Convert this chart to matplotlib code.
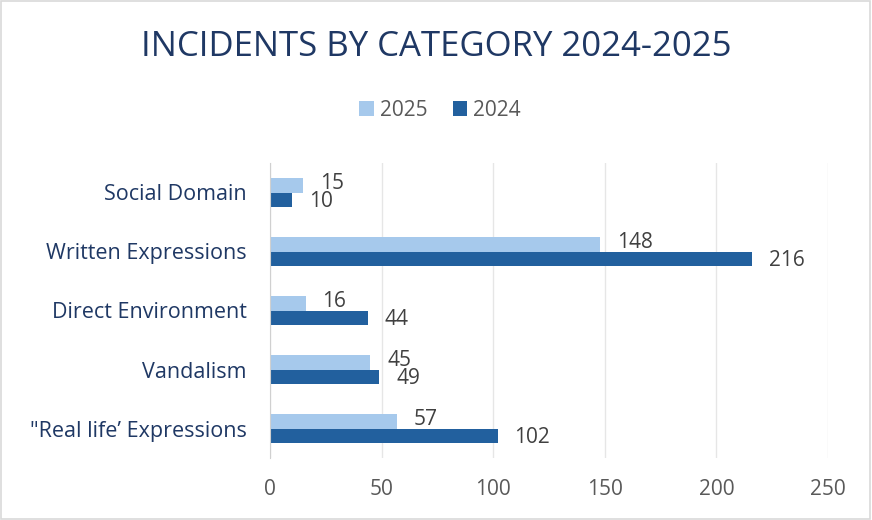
import matplotlib.pyplot as plt
import numpy as np

# data
categories = ['Social Domain', 'Written Expressions', 'Direct Environment',
              'Vandalism', '"Real life\u2019 Expressions']
values_2025 = [15, 148, 16, 45, 57]
values_2024 = [10, 216, 44, 49, 102]
x_ticks = [0, 50, 100, 150, 200, 250]

light = '#A6C9EC'
dark = '#22609E'
navy = '#1F3864'
grey = '#595959'

plt.rcParams['font.family'] = ['Open Sans', 'DejaVu Sans']

fig = plt.figure(figsize=(8.72, 5.2), dpi=100)
ax = fig.add_axes([270 / 872, 1 - 458 / 520, 558 / 872, 295 / 520])

y = np.arange(len(categories))
h = 0.25
b25 = ax.barh(y - h / 2, values_2025, height=h, color=light, label='2025')
b24 = ax.barh(y + h / 2, values_2024, height=h, color=dark, label='2024')

# value labels, nudged a little apart like the original
for bars, dy in ((b25, 1.5), (b24, -1.5)):
    for rect in bars:
        w = rect.get_width()
        ax.annotate(str(int(w)), (w, rect.get_y() + rect.get_height() / 2),
                    xytext=(12, dy), textcoords='offset points',
                    ha='left', va='center', fontsize=15, color='#404040')

ax.set_ylim(len(categories) - 0.5, -0.5)
ax.set_xlim(0, 250)
ax.set_xticks(x_ticks)
ax.set_yticks(y)
ax.set_yticklabels(categories, fontsize=15.5, color=navy)
ax.tick_params(axis='x', labelsize=15, labelcolor=grey, length=0, pad=15)
ax.tick_params(axis='y', length=0, pad=17)
ax.grid(axis='x', color='#E6E6E6', linewidth=1)
ax.set_axisbelow(True)
for s in ['top', 'right', 'bottom']:
    ax.spines[s].set_visible(False)
ax.spines['left'].set_color('#D0D0D0')

fig.text(0.5, 1 - 47 / 520, 'INCIDENTS BY CATEGORY 2024-2025', ha='center',
         va='center', fontsize=25, color=navy)
fig.legend(handles=[b25, b24], labels=['2025', '2024'], loc='center',
           bbox_to_anchor=(440 / 872, 1 - 110 / 520), ncol=2, frameon=False,
           fontsize=15, labelcolor=grey, handlelength=0.7, handleheight=0.7,
           handletextpad=0.3, columnspacing=1.2)

fig.patches.append(plt.Rectangle((0.001, 0.002), 0.997, 0.996, transform=fig.transFigure,
                                 fill=False, edgecolor='#D9D9D9', linewidth=1.2))

fig.savefig('out.png', dpi=100)
